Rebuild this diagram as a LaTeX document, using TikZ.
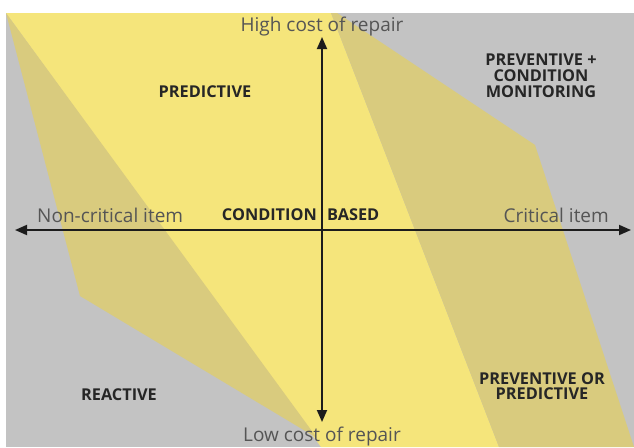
\documentclass[tikz,border=0pt]{standalone}
\usepackage{fontspec}
\setmainfont{Open Sans}
\usetikzlibrary{arrows.meta}
\definecolor{bggray}{HTML}{C3C3C3}
\definecolor{brightyel}{HTML}{F5E57B}
\definecolor{darkyel}{HTML}{D9CB7E}
\definecolor{axiscol}{HTML}{1C1C1C}
\definecolor{labelgray}{HTML}{555555}
\definecolor{boldcol}{HTML}{262626}
\tikzset{
  axislabel/.style={inner sep=0pt, anchor=base, text=labelgray, font=\fontsize{19}{21}\selectfont},
  zonelabel/.style={inner sep=0pt, anchor=base, text=boldcol, font=\fontsize{16.3}{17}\selectfont\bfseries},
  axisline/.style={draw=axiscol, line width=1.8pt, -{Triangle[length=12pt,width=10pt]}},
}
\begin{document}
\begin{tikzpicture}[x=1pt,y=-1pt]
\useasboundingbox (0,0) rectangle (634,447);
\fill[white] (0,0) rectangle (634,447);
\fill[bggray] (6,13) rectangle (634,447);
% central bright band
\fill[brightyel] (6,13) -- (331,13) -- (499,447) -- (321,447) -- cycle;
% left darker band
\fill[darkyel] (6,13) -- (317,438) -- (80,296) -- cycle;
% right darker band
\fill[darkyel] (331,13) -- (337,13) -- (535,145) -- (634,447) -- (499,447) -- cycle;
% axes
\coordinate (hl) at (15,230);
\coordinate (hr) at (631,230);
\coordinate (vt) at (322,37);
\coordinate (vb) at (322,422);
\coordinate (c) at (322,230);
\draw[axisline] (c) -- (hl);
\draw[axisline] (c) -- (hr);
\draw[axisline] (c) -- (vt);
\draw[axisline] (c) -- (vb);
% axis labels
\node[axislabel] (high) at (322,31) {High cost of repair};
\node[axislabel] (low) at (322,441) {Low cost of repair};
\node[axislabel, anchor=base west] (noncrit) at (37,222) {Non-critical item};
\node[axislabel, anchor=base east] (crit) at (609,222) {Critical item};
% zone labels
\node[zonelabel, anchor=base east] (cond) at (317,220) {CONDITION};
\node[zonelabel, anchor=base west] (based) at (327,220) {BASED};
\node[zonelabel] (pred) at (205,97) {PREDICTIVE};
\node[zonelabel] (pc1) at (541,65) {PREVENTIVE +};
\node[zonelabel] (pc2) at (541,81) {CONDITION};
\node[zonelabel] (pc3) at (541,97) {MONITORING};
\node[zonelabel] (react) at (119,400) {REACTIVE};
\node[zonelabel] (pp1) at (542,384) {PREVENTIVE OR};
\node[zonelabel] (pp2) at (542,399) {PREDICTIVE};
\end{tikzpicture}
\end{document}
